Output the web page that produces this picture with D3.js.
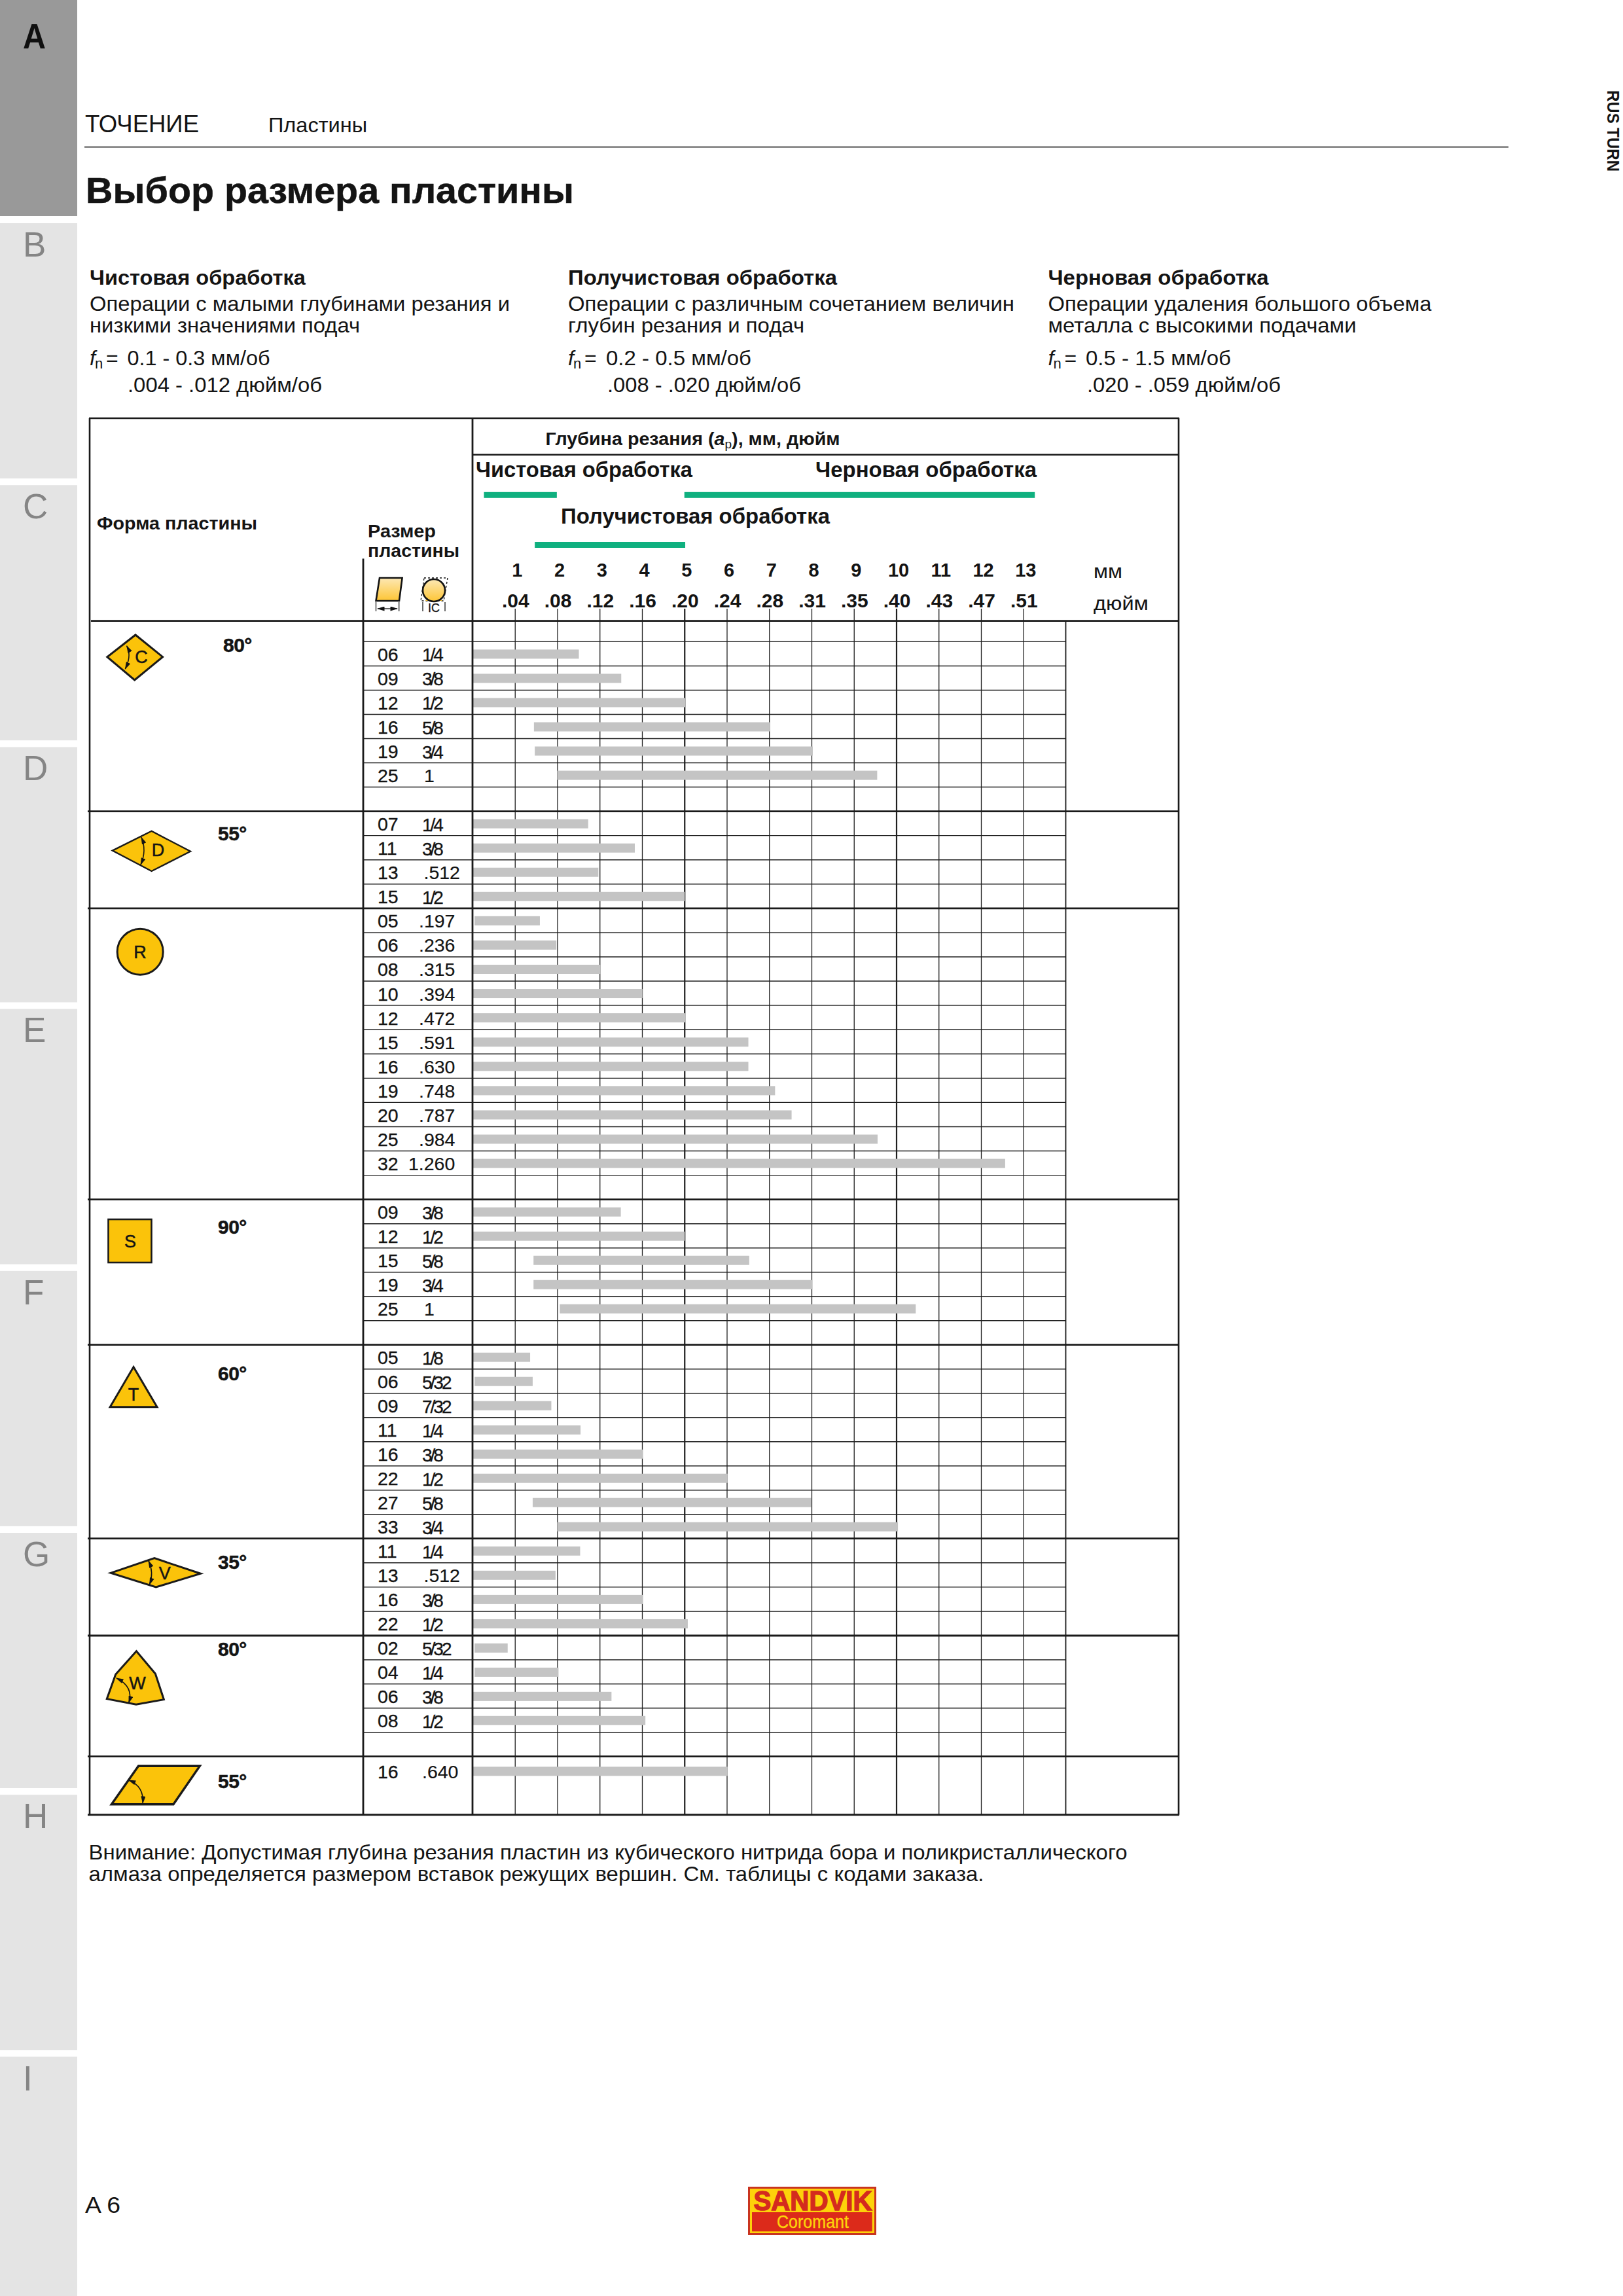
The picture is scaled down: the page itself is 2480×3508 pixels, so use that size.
<!DOCTYPE html>
<html><head><meta charset="utf-8">
<script src="https://cdn.jsdelivr.net/npm/d3@7"></script>
<style>html,body{margin:0;padding:0;background:#fff}svg{display:block}text{font-family:"Liberation Sans",Arial,sans-serif;fill:#141414}</style>
</head><body><div id="page"></div>
<script>
// ---------- data ----------
const tabLetters = ['A','B','C','D','E','F','G','H','I'];
const mmTicks = [1,2,3,4,5,6,7,8,9,10,11,12,13];
const inchTicks = ['.04','.08','.12','.16','.20','.24','.28','.31','.35','.40','.43','.47','.51'];
const groupLetters = ['C','D','R','S','T','V','W',''];
const groupAngles = ['80°','55°','','90°','60°','35°','80°','55°'];
const groupRows = [6,4,11,5,8,4,4,1];
const groupBlank = [1,0,1,1,0,0,1,0];
const rowCodes = ['06','09','12','16','19','25', '07','11','13','15',
  '05','06','08','10','12','15','16','19','20','25','32',
  '09','12','15','19','25', '05','06','09','11','16','22','27','33',
  '11','13','16','22', '02','04','06','08', '16'];
const rowInches = ['1/4','3/8','1/2','5/8','3/4','1', '1/4','3/8','.512','1/2',
  '.197','.236','.315','.394','.472','.591','.630','.748','.787','.984','1.260',
  '3/8','1/2','5/8','3/4','1', '1/8','5/32','7/32','1/4','3/8','1/2','5/8','3/4',
  '1/4','.512','3/8','1/2', '5/32','1/4','3/8','1/2', '.640'];
const rowFrom = [0,0,0,1.45,1.47,2.0, 0,0,0,0,
  0.05,0,0,0,0,0,0,0,0,0,0,
  0,0,1.44,1.44,2.06, 0,0.05,0,0,0,0,1.42,2.0,
  0,0,0,0, 0.05,0.05,0,0, 0];
const rowTo = [2.51,3.51,5.02,7.02,8.03,9.55, 2.73,3.83,2.97,5.01,
  1.59,1.98,3.02,4.01,5.03,6.51,6.51,7.14,7.53,9.56,12.57,
  3.5,5.01,6.53,8.02,10.46, 1.36,1.42,1.86,2.55,4.02,6.02,8.0,10.04,
  2.54,1.96,4.02,5.08, 0.83,2.03,3.28,4.08, 6.02];
const rangeNames = ['Чистовая обработка','Получистовая обработка','Черновая обработка'];
const rangeFrom = [0.27,1.47,5.0];
const rangeTo = [1.99,5.02,13.27];

// ---------- page ----------
const svg = d3.select('#page').append('svg').attr('width',2480).attr('height',3508).attr('viewBox','0 0 2480 3508');
const defs = svg.append('defs');
const grad = defs.append('linearGradient').attr('id','ig').attr('x1',0).attr('y1',0).attr('x2',0).attr('y2',1);
grad.append('stop').attr('offset','0').attr('stop-color','#fde8b4');
grad.append('stop').attr('offset','1').attr('stop-color','#fdc535');
[['arrE','auto'],['arrS','auto-start-reverse']].forEach(([id,o])=>{
  defs.append('marker').attr('id',id).attr('viewBox','0 0 10 6').attr('refX',9).attr('refY',3)
    .attr('markerWidth',12).attr('markerHeight',7).attr('markerUnits','userSpaceOnUse').attr('orient',o)
    .append('path').attr('d','M0,0L10,3L0,6Z').attr('fill','#141414');
});
function txt(str,x,y,size,o={}){
  const t = (o.g||svg).append('text').attr('x',x).attr('y',y).attr('font-size',size).text(str);
  if(o.bold) t.attr('font-weight','bold');
  if(o.italic) t.attr('font-style','italic');
  if(o.fill) t.style('fill',o.fill);
  if(o.anchor) t.attr('text-anchor',o.anchor);
  if(o.ls) t.attr('letter-spacing',o.ls);
  if(o.w) t.attr('textLength',o.w).attr('lengthAdjust','spacingAndGlyphs');
  if(o.stroke) t.attr('stroke',o.fill||'#141414').attr('stroke-width',o.stroke);
  return t;
}
function line(x1,y1,x2,y2,w,c='#1a1a1a'){svg.append('line').attr('x1',x1).attr('y1',y1).attr('x2',x2).attr('y2',y2).attr('stroke',c).attr('stroke-width',w);}

// side tabs
const tabY = i => i===0 ? 0 : 341 + 400.2*(i-1);
const tabB = i => i===0 ? 330 : (i===8 ? 3508 : 341 + 400.2*(i-1) + 390);
svg.append('g').selectAll('rect').data(tabLetters).join('rect')
  .attr('x',0).attr('width',118).attr('y',(d,i)=>tabY(i)).attr('height',(d,i)=>tabB(i)-tabY(i))
  .attr('fill',(d,i)=>i===0?'#999999':'#e4e4e4');
tabLetters.forEach((l,i)=>txt(l,35,i===0?73.5:391.5+400.3*(i-1),53,{fill:i===0?'#0f0f0f':'#858585',bold:i===0,w:i===0?35:null}));

// heading
txt('ТОЧЕНИЕ',130,202,36,{w:174});
txt('Пластины',410,202,32,{w:151});
line(129,224.6,2305,224.6,1.8,'#333');
txt('Выбор размера пластины',131,310,55,{bold:true,w:746,stroke:0.5});
txt('RUS TURN',0,0,26,{bold:true,w:124,g:svg.append('g').attr('transform','translate(2456,138) rotate(90)')});

// three columns
const cols = [
 {x:137,h:'Чистовая обработка',hw:330,l:[['Операции с малыми глубинами резания и',642],['низкими значениями подач',413]],mm:['0.1 - 0.3 мм/об',194.5,218],inch:['.004 - .012 дюйм/об',195,297]},
 {x:868,h:'Получистовая обработка',hw:411,l:[['Операции с различным сочетанием величин',682],['глубин резания и подач',361]],mm:['0.2 - 0.5 мм/об',926,222],inch:['.008 - .020 дюйм/об',928,296]},
 {x:1601.5,h:'Черновая обработка',hw:337,l:[['Операции удаления большого объема',586],['металла с высокими подачами',471]],mm:['0.5 - 1.5 мм/об',1659,222],inch:['.020 - .059 дюйм/об',1661,296]}
];
cols.forEach(c=>{
  txt(c.h,c.x,435,32,{bold:true,w:c.hw});
  txt(c.l[0][0],c.x,475,32,{w:c.l[0][1]});
  txt(c.l[1][0],c.x,508,32,{w:c.l[1][1]});
  txt('f',c.x,557.5,32,{italic:true});
  txt('n',c.x+8,563,22);
  txt('=',c.x+25,557.5,32);
  txt(c.mm[0],c.mm[1],557.5,32,{w:c.mm[2]});
  txt(c.inch[0],c.inch[1],599,32,{w:c.inch[2]});
});

// ---------- table ----------
const L=137,R=1801,colA=555,colB=722,TOP=639,HDR=694.7,GRIDTOP=930;
const x = d3.scaleLinear().domain([0,14]).range([colB,1628.5]);
const y = d3.scaleLinear().domain([-1,0,7,11,23,29,37,41,46,47,48])
  .range([948.6,980.4,1239.6,1387.8,1832.7,2054.7,2350.7,2499,2683.7,2728,2772.7]);
const BOTTOM = y(48), rowFrame = y(-1);

// grid verticals come from an axis with long ticks
const grid = svg.append('g').attr('transform',`translate(0,${GRIDTOP})`)
  .call(d3.axisBottom(x).tickValues(mmTicks).tickSize(BOTTOM-GRIDTOP).tickFormat(''));
grid.select('.domain').remove();
grid.selectAll('.tick line').attr('stroke','#1f1f1f').attr('stroke-width',d=>(d===5||d===10)?2.2:1.3);
line(x(14),rowFrame,x(14),BOTTOM,1.8,'#1a1a1a');

// slot of each row
let slot=0,slots=[],groupStart=[],rowLines=[];
groupRows.forEach((n,g)=>{
  groupStart.push(slot);
  for(let i=0;i<n;i++){slots.push(slot+i);}
  slot+=n+groupBlank[g];
});
d3.range(0,46).forEach(s=>{ if(!groupStart.slice(1).includes(s)) rowLines.push(s); });
svg.append('g').selectAll('line').data(rowLines).join('line')
  .attr('x1',colA).attr('x2',x(14)).attr('y1',d=>y(d)).attr('y2',d=>y(d))
  .attr('stroke','#1f1f1f').attr('stroke-width',1.4);
svg.append('g').selectAll('line').data(groupStart.slice(1)).join('line')
  .attr('x1',L-3).attr('x2',R).attr('y1',d=>y(d)).attr('y2',d=>y(d))
  .attr('stroke','#1a1a1a').attr('stroke-width',2.8);

// bars
const BAR=14;
const rowY = i => (y(slots[i])+y(slots[i]+1))/2;
svg.append('g').selectAll('rect').data(rowTo).join('rect')
  .attr('x',(d,i)=>x(rowFrom[i])).attr('width',(d,i)=>x(d)-x(rowFrom[i]))
  .attr('y',(d,i)=>rowY(i)-BAR/2+0.5).attr('height',BAR).attr('fill','#c4c4c4');

// frame
line(L,TOP,L,BOTTOM,2.6);
line(L-1,TOP,R+1,TOP,2.6);
line(R,TOP,R,BOTTOM,2.6);
line(L-3,BOTTOM,R+1,BOTTOM,3);
line(colB,TOP,colB,BOTTOM,2.8);
line(colA,853.5,colA,BOTTOM,2.8);
line(colB,HDR,R+1,HDR,2.6);
line(L+2,rowFrame,R,rowFrame,2.6);

// header texts
const hdT = svg.append('text').attr('x',833.6).attr('y',680).attr('font-size',27).attr('font-weight','bold').attr('textLength',450).attr('lengthAdjust','spacingAndGlyphs');
hdT.append('tspan').text('Глубина резания (');
hdT.append('tspan').attr('font-style','italic').text('a');
hdT.append('tspan').attr('font-size',18).attr('dy',5).attr('font-weight','normal').text('p');
hdT.append('tspan').attr('dy',-5).text('), мм, дюйм');

const rangePos = [[727,729,331],[857,800,411],[1246,729,338]];
rangeNames.forEach((n,i)=>txt(n,rangePos[i][0],rangePos[i][1],33,{bold:true,w:rangePos[i][2]}));
const rangeY = [751.8,828,751.8];
svg.append('g').selectAll('rect').data(rangeNames).join('rect')
  .attr('x',(d,i)=>x(rangeFrom[i])).attr('width',(d,i)=>x(rangeTo[i])-x(rangeFrom[i]))
  .attr('y',(d,i)=>rangeY[i]).attr('height',9).attr('fill','#0fb07f');

txt('Форма пластины',148,809,28,{bold:true,w:245});
txt('Размер',562,821,27,{bold:true,w:104});
txt('пластины',562,850.6,27,{bold:true,w:140});

// tick labels from axes
const axMm = svg.append('g').attr('transform','translate(3,881)')
  .call(d3.axisTop(x).tickValues(mmTicks).tickSize(0).tickPadding(0));
const axIn = svg.append('g').attr('transform','translate(0.5,928)')
  .call(d3.axisTop(x).tickValues(mmTicks).tickSize(0).tickPadding(0).tickFormat((d,i)=>inchTicks[i]));
axMm.select('.domain').remove(); axIn.select('.domain').remove();
axMm.selectAll('text').attr('font-family','Liberation Sans').attr('font-size',29).attr('font-weight','bold').style('fill','#141414');
axIn.selectAll('text').attr('font-family','Liberation Sans').attr('font-size',30).attr('font-weight','bold').style('fill','#141414');
txt('мм',1671,883,30,{w:44});
txt('дюйм',1671,932,30,{w:84});

// header icons
svg.append('path').attr('d','M580,883L614.6,883L610,918L574.5,918Z').attr('fill','url(#ig)').attr('stroke','#141414').attr('stroke-width',2.6);
svg.append('path').attr('d','M648,883L684,883L678,918L643,918Z').attr('fill','none').attr('stroke','#141414').attr('stroke-width',1.4).attr('stroke-dasharray','3 3');
svg.append('path').attr('d','M650,918L676,918L660,905Z').attr('fill','#fdc535');
svg.append('circle').attr('cx',663).attr('cy',902).attr('r',17).attr('fill','url(#ig)').attr('stroke','#141414').attr('stroke-width',2.6);
line(574.5,920,574.5,934,1.3);line(609.7,920,609.7,934,1.3);
svg.append('line').attr('x1',577).attr('x2',607).attr('y1',930).attr('y2',930).attr('stroke','#141414').attr('stroke-width',1.3).attr('marker-start','url(#arrS)').attr('marker-end','url(#arrE)');
line(646,920,646,934,1.3);line(680,920,680,934,1.3);
txt('IC',663,935,18,{anchor:'middle',stroke:0.3});

// insert shapes
const YEL='#fbc30a';
function poly(pts,w=3){svg.append('path').attr('d','M'+pts.map(p=>p.join(',')).join('L')+'Z').attr('fill',YEL).attr('stroke','#1a1a1a').attr('stroke-width',w).attr('stroke-linejoin','miter');}
function arc(a,m,b){const c=[2*m[0]-(a[0]+b[0])/2,2*m[1]-(a[1]+b[1])/2];
  svg.append('path').attr('d',`M${a}Q${c} ${b}`).attr('fill','none').attr('stroke','#141414').attr('stroke-width',1.6)
   .attr('marker-start','url(#arrS)').attr('marker-end','url(#arrE)');}
const glyph=(i,gx,gy)=>txt(groupLetters[i],gx,gy,27,{anchor:'middle',stroke:0.5});
poly([[207,970],[248.6,1003.7],[205.7,1039],[163.8,1003.7]]);
arc([193.7,987],[197,1003],[191.4,1022]); glyph(0,216,1013);
poly([[231.6,1269.8],[291,1300.8],[231.6,1331],[171.8,1299.6]],2.4);
arc([216,1279.2],[220,1299.6],[215,1321.2]); glyph(1,241.4,1308);
svg.append('circle').attr('cx',214.2).attr('cy',1454.3).attr('r',35).attr('fill',YEL).attr('stroke','#1a1a1a').attr('stroke-width',3);
glyph(2,214,1464);
svg.append('rect').attr('x',165.5).attr('y',1863).attr('width',66).attr('height',66).attr('fill',YEL).attr('stroke','#1a1a1a').attr('stroke-width',2.6);
glyph(3,199,1906);
poly([[204,2088.6],[240,2149.8],[168.2,2149.8]]);
glyph(4,204,2140);
poly([[169,2403.3],[236,2380.7],[306.6,2404.3],[238.3,2425]],3);
arc([227,2384.7],[231.6,2403],[228.5,2421]); glyph(5,251.7,2413);
poly([[208.4,2522.7],[237.4,2557.3],[250.4,2596.7],[208,2604.3],[163.3,2595.7],[176.7,2558.3]]);
arc([178,2564],[196,2580],[196.8,2601.7]); glyph(6,210,2581);
poly([[211.5,2698.3],[305.3,2698.3],[265,2756.7],[170.4,2756.7]],3.4);
arc([196.8,2720],[213.8,2733.3],[218.2,2755]);

const angleX=[341,333,0,333,333,333,333,333], angleY=[995.5,1284,0,1885,2109,2397,2530,2731.7];
groupAngles.forEach((a,i)=>{ if(a) txt(a,angleX[i],angleY[i],30,{bold:true,stroke:0.5,ls:-0.5}); });

// row labels
rowCodes.forEach((c,i)=>{
  const base=rowY(i)+11;
  txt(c,577,base,28.5,{stroke:0.3});
  const v=rowInches[i];
  if(v.includes('/')) txt(v,645,base+0.5,28,{ls:-3,stroke:0.3});
  else {
    const px = v==='1' ? 648 : v==='1.260' ? 624 : v==='.512' ? 647.5 : v==='.640' ? 645 : 640;
    txt(v,px,base,28.5,{stroke:0.2});
  }
});

// note, folio
txt('Внимание: Допустимая глубина резания пластин из кубического нитрида бора и поликристаллического',135.5,2840.6,32,{w:1587});
txt('алмаза определяется размером вставок режущих вершин. См. таблицы с кодами заказа.',135.5,2873.5,32,{w:1368});
txt('A 6',130,3381,35,{w:54});

// logo
svg.append('rect').attr('x',1144.5).attr('y',3342.5).attr('width',193).attr('height',71).attr('fill','#fdd20a').attr('stroke','#c9341f').attr('stroke-width',3);
svg.append('rect').attr('x',1149).attr('y',3380).attr('width',183.7).attr('height',29.3).attr('fill','#dc2a1a');
txt('SANDVIK',1151.5,3377,43,{bold:true,w:181,fill:'#d42b1e',stroke:1.5});
txt('Coromant',1187,3404,27,{w:110,fill:'#fdd20a',stroke:0.4});
</script></body></html>
